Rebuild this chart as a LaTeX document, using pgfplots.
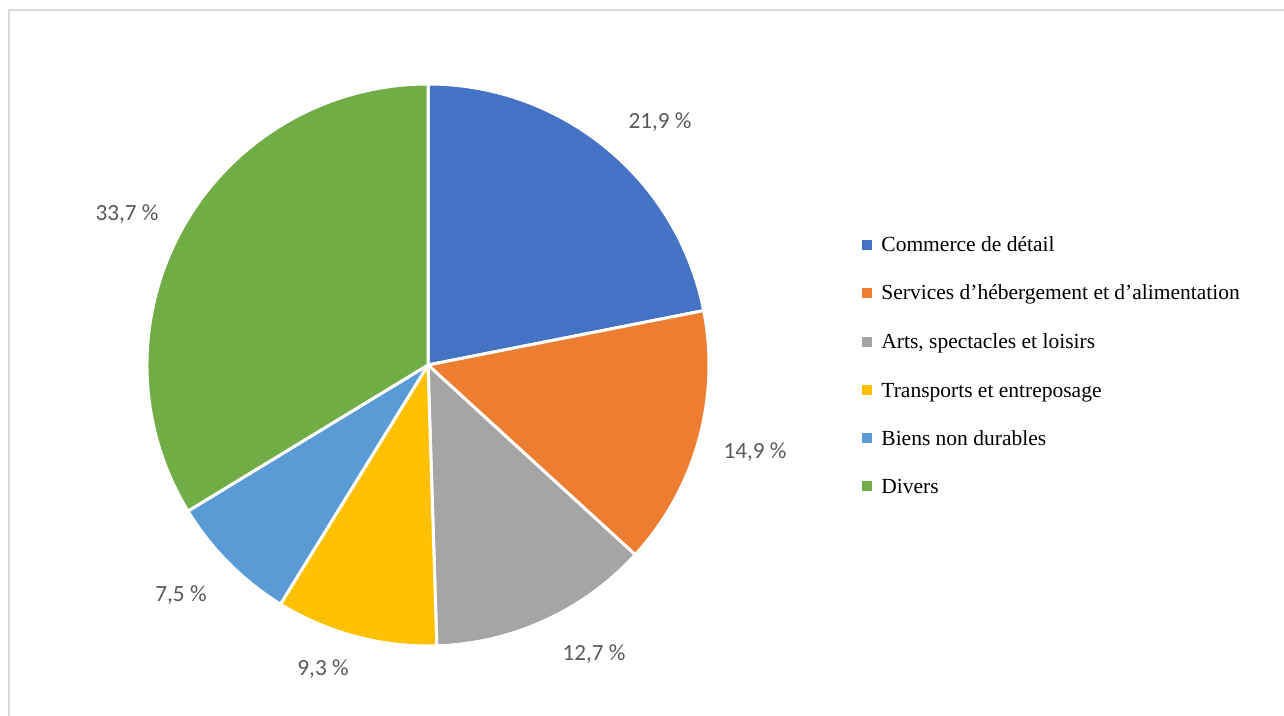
\documentclass[border=0pt]{standalone}
\usepackage{pgfplots}
\usepackage{pgfplotstable}
\pgfplotsset{compat=1.18}
\usepackage{fontspec}
\setmainfont{Liberation Serif}
\newfontfamily\labfont{Carlito}
\definecolor{pie0}{HTML}{4472C4}
\definecolor{pie1}{HTML}{ED7D31}
\definecolor{pie2}{HTML}{A5A5A5}
\definecolor{pie3}{HTML}{FFC000}
\definecolor{pie4}{HTML}{5B9BD5}
\definecolor{pie5}{HTML}{70AD47}
\definecolor{labgray}{HTML}{595959}
\definecolor{framegray}{HTML}{D9D9D9}

% value; label centre (px); legend row centre (px); legend name
\pgfplotstableread[col sep=semicolon]{
value;lx;ly;legy;name
21.9;660;122;245;Commerce de détail
14.9;755;452;293;Services d’hébergement et d’alimentation
12.7;594;654;342;Arts, spectacles et loisirs
9.3;323;669;390;Transports et entreposage
7.5;181;595;438;Biens non durables
33.7;127;214;486;Divers
}\piedata

\xdef\cum{0}
\foreach \i in {0,...,5}{%
  \pgfplotstablegetelem{\i}{value}\of\piedata
  \pgfmathsetmacro\v{\pgfplotsretval}%
  \expandafter\xdef\csname v\i\endcsname{\pgfplotsretval}%
  \pgfmathsetmacro\a{90-\cum*3.6}%
  \pgfmathsetmacro\b{90-(\cum+\v)*3.6}%
  \expandafter\xdef\csname sA\i\endcsname{\a}%
  \expandafter\xdef\csname sB\i\endcsname{\b}%
  \pgfmathsetmacro\c{\cum+\v}%
  \xdef\cum{\c}%
  \pgfplotstablegetelem{\i}{lx}\of\piedata
  \expandafter\xdef\csname lx\i\endcsname{\pgfplotsretval}%
  \pgfplotstablegetelem{\i}{ly}\of\piedata
  \expandafter\xdef\csname ly\i\endcsname{\pgfplotsretval}%
  \pgfplotstablegetelem{\i}{legy}\of\piedata
  \expandafter\xdef\csname gy\i\endcsname{\pgfplotsretval}%
  \pgfplotstablegetelem{\i}{name}\of\piedata
  \global\expandafter\let\csname nm\i\endcsname\pgfplotsretval
}

\begin{document}
\begin{tikzpicture}
\begin{axis}[
  x=0.5pt, y=0.5pt,
  xmin=0, xmax=1284, ymin=0, ymax=716,
  y dir=reverse,
  hide axis, clip=false,
]
\draw[framegray, line width=1pt] (axis cs:9,730) -- (axis cs:9,10) -- (axis cs:1300,10);
\pgfplotsinvokeforeach{0,...,5}{
  \fill[pie#1, draw=white, line width=1.5pt, line join=round]
    (axis cs:428,365) -- ++(\csname sA#1\endcsname:140.5pt)
    arc[start angle=\csname sA#1\endcsname, end angle=\csname sB#1\endcsname, radius=140.5pt] -- cycle;
  \node[text=labgray, font=\labfont\fontsize{11.6pt}{13pt}\selectfont, anchor=center]
    at (axis cs:\csname lx#1\endcsname,\csname ly#1\endcsname)
    {\pgfmathprintnumber[use comma,fixed,fixed zerofill,precision=1,assume math mode=true]{\csname v#1\endcsname}~\%};
  \fill[pie#1] (axis cs:862,{\csname gy#1\endcsname-5}) rectangle (axis cs:872,{\csname gy#1\endcsname+5});
  \node[anchor=base west, inner sep=0pt, font=\fontsize{10.75pt}{12pt}\selectfont]
    at (axis cs:881,{\csname gy#1\endcsname+7}) {\csname nm#1\endcsname};
}
\end{axis}
\pgfresetboundingbox
\useasboundingbox (current axis.south west) rectangle (current axis.north east);
\end{tikzpicture}
\end{document}
